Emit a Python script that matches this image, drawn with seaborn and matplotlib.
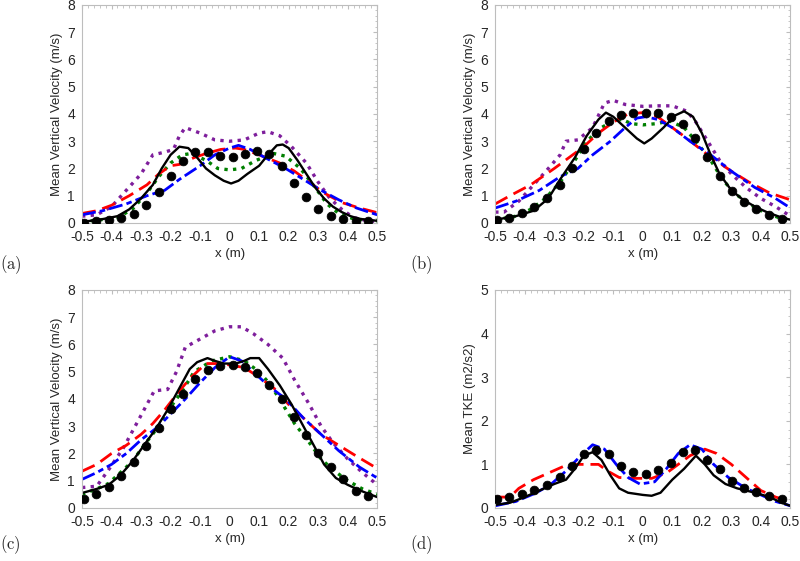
import matplotlib
matplotlib.use("Agg")
import matplotlib.pyplot as plt
import seaborn as sns
from matplotlib.ticker import AutoMinorLocator

sns.set_style("white")
plt.rcParams['font.family'] = ['Liberation Sans', 'DejaVu Sans']
plt.rcParams['mathtext.fontset'] = 'cm'

# x tick positions / labels (MATLAB style, "0" without decimals)
xtick_vals = [-0.5, -0.4, -0.3, -0.2, -0.1, 0.0, 0.1, 0.2, 0.3, 0.4, 0.5]
xtick_labels = ["-0.5", "-0.4", "-0.3", "-0.2", "-0.1", "0", "0.1", "0.2", "0.3", "0.4", "0.5"]

# measurement positions (black dots), shared by all panels
dot_x = [-0.494, -0.452, -0.41, -0.367, -0.325, -0.282, -0.24, -0.199, -0.158, -0.116, -0.074, -0.032,
         0.01, 0.051, 0.094, 0.135, 0.178, 0.218, 0.26, 0.301, 0.343, 0.385, 0.427, 0.47]

# ---- panel (a)
a_dots = [0.0, 0.07, 0.12, 0.2, 0.32, 0.66, 1.13, 1.73, 2.29, 2.61, 2.61, 2.46,
          2.41, 2.52, 2.65, 2.52, 2.1, 1.48, 0.94, 0.5, 0.26, 0.15, 0.09, 0.06]
a_black_x = [-0.5, -0.45, -0.38, -0.34, -0.3, -0.26, -0.23, -0.2, -0.17, -0.14, -0.11, -0.08, -0.05, -0.02, 0.005,
             0.03, 0.06, 0.1, 0.13, 0.16, 0.18, 0.2, 0.23, 0.26, 0.29, 0.32, 0.35, 0.38, 0.41, 0.44, 0.5]
a_black_y = [0.05, 0.1, 0.25, 0.5, 0.9, 1.4, 2.0, 2.5, 2.8, 2.75, 2.4, 2.0, 1.75, 1.55, 1.45,
             1.55, 1.8, 2.1, 2.5, 2.85, 2.88, 2.75, 2.3, 1.8, 1.3, 0.9, 0.6, 0.4, 0.25, 0.15, 0.08]
a_purple_x = [-0.5, -0.45, -0.4, -0.35, -0.3, -0.26, -0.22, -0.19, -0.17, -0.15, -0.1, -0.05, 0.0,
              0.05, 0.1, 0.13, 0.17, 0.21, 0.26, 0.3, 0.34, 0.38, 0.42, 0.46, 0.5]
a_purple_y = [0.25, 0.3, 0.6, 1.2, 1.8, 2.5, 2.6, 2.7, 3.2, 3.5, 3.3, 3.05, 3.0,
              3.05, 3.3, 3.35, 3.2, 2.8, 2.2, 1.5, 0.9, 0.5, 0.2, 0.1, 0.05]
a_red_x = [-0.5, -0.45, -0.4, -0.34, -0.28, -0.24, -0.2, -0.17, -0.12, -0.08, -0.03, 0.02, 0.05,
           0.1, 0.17, 0.22, 0.27, 0.32, 0.38, 0.44, 0.5]
a_red_y = [0.35, 0.45, 0.65, 1.0, 1.4, 1.8, 2.1, 2.15, 2.4, 2.55, 2.7, 2.75, 2.7,
           2.5, 2.2, 1.9, 1.5, 1.1, 0.75, 0.55, 0.38]
a_blue_x = [-0.5, -0.43, -0.35, -0.28, -0.22, -0.17, -0.1, -0.05, 0.0, 0.03, 0.07, 0.12, 0.19,
            0.25, 0.31, 0.37, 0.43, 0.5]
a_blue_y = [0.3, 0.45, 0.7, 1.0, 1.2, 1.6, 2.1, 2.5, 2.75, 2.85, 2.7, 2.4, 2.0,
            1.6, 1.2, 0.85, 0.55, 0.3]
a_green_x = [-0.5, -0.45, -0.38, -0.33, -0.28, -0.24, -0.2, -0.16, -0.13, -0.08, -0.04, 0.0, 0.04,
             0.09, 0.15, 0.19, 0.24, 0.29, 0.33, 0.37, 0.42, 0.5]
a_green_y = [0.05, 0.1, 0.2, 0.5, 1.1, 1.7, 2.2, 2.5, 2.55, 2.3, 2.0, 1.95, 2.0,
             2.3, 2.55, 2.45, 2.0, 1.3, 0.7, 0.35, 0.15, 0.08]

# ---- panel (b)
b_dots = [0.12, 0.2, 0.37, 0.59, 0.92, 1.38, 2.02, 2.72, 3.32, 3.75, 3.97, 4.02,
          4.04, 4.02, 3.9, 3.63, 3.11, 2.44, 1.74, 1.18, 0.78, 0.5, 0.31, 0.15]
b_black_x = [-0.5, -0.43, -0.37, -0.32, -0.28, -0.23, -0.19, -0.15, -0.125, -0.1, -0.06, -0.02, 0.005,
             0.03, 0.07, 0.11, 0.14, 0.17, 0.2, 0.23, 0.26, 0.3, 0.34, 0.38, 0.42, 0.47, 0.5]
b_black_y = [0.12, 0.25, 0.45, 0.9, 1.6, 2.4, 3.2, 3.8, 4.05, 3.9, 3.5, 3.1, 2.92,
             3.1, 3.5, 3.95, 4.1, 3.9, 3.3, 2.5, 1.8, 1.2, 0.85, 0.6, 0.4, 0.2, 0.12]
b_purple_x = [-0.5, -0.47, -0.42, -0.37, -0.32, -0.28, -0.26, -0.22, -0.17, -0.13, -0.1, -0.06, 0.0,
              0.05, 0.1, 0.15, 0.18, 0.22, 0.26, 0.3, 0.35, 0.4, 0.45, 0.5]
b_purple_y = [0.4, 0.4, 0.8, 1.4, 2.0, 2.5, 3.0, 3.05, 3.5, 4.4, 4.5, 4.35, 4.28,
              4.3, 4.3, 4.1, 3.7, 3.0, 2.3, 1.8, 1.3, 0.9, 0.6, 0.25]
b_red_x = [-0.5, -0.45, -0.38, -0.3, -0.25, -0.2, -0.15, -0.1, -0.05, 0.0, 0.05, 0.1, 0.15,
           0.22, 0.3, 0.36, 0.43, 0.5]
b_red_y = [0.7, 1.0, 1.4, 2.0, 2.4, 2.8, 3.3, 3.7, 4.0, 4.05, 3.9, 3.5, 3.1,
           2.5, 1.9, 1.5, 1.1, 0.85]
b_blue_x = [-0.5, -0.43, -0.35, -0.28, -0.22, -0.17, -0.11, -0.06, -0.02, 0.01, 0.05, 0.1, 0.16,
            0.23, 0.3, 0.38, 0.45, 0.5]
b_blue_y = [0.55, 0.8, 1.2, 1.7, 2.0, 2.5, 3.0, 3.5, 3.85, 3.9, 3.8, 3.5, 3.0,
            2.5, 1.9, 1.3, 0.9, 0.55]
b_green_x = [-0.5, -0.43, -0.38, -0.33, -0.28, -0.23, -0.19, -0.14, -0.1, -0.07, -0.04, 0.0, 0.05,
             0.09, 0.14, 0.18, 0.23, 0.27, 0.31, 0.36, 0.41, 0.46, 0.5]
b_green_y = [0.12, 0.25, 0.5, 0.9, 1.5, 2.3, 3.0, 3.5, 3.75, 3.8, 3.65, 3.6, 3.65,
             3.75, 3.5, 3.0, 2.3, 1.6, 1.1, 0.7, 0.4, 0.2, 0.12]

# ---- panel (c)
c_dots = [0.33, 0.53, 0.77, 1.19, 1.69, 2.28, 2.94, 3.65, 4.2, 4.73, 5.06, 5.21,
          5.23, 5.18, 4.95, 4.53, 4.0, 3.35, 2.66, 2.0, 1.5, 1.05, 0.64, 0.43]
c_black_x = [-0.5, -0.45, -0.41, -0.37, -0.33, -0.29, -0.25, -0.21, -0.17, -0.135, -0.11, -0.075, -0.05,
             -0.02, 0.02, 0.05, 0.07, 0.1, 0.13, 0.17, 0.21, 0.25, 0.29, 0.32, 0.36, 0.4, 0.44, 0.5]
c_black_y = [0.55, 0.7, 0.85, 1.2, 1.7, 2.3, 2.9, 3.6, 4.4, 5.1, 5.35, 5.5, 5.4,
             5.3, 5.3, 5.4, 5.5, 5.5, 5.1, 4.5, 3.8, 3.0, 2.2, 1.6, 1.1, 0.85, 0.65, 0.4]
c_purple_x = [-0.5, -0.45, -0.41, -0.36, -0.32, -0.28, -0.255, -0.21, -0.18, -0.15, -0.1, -0.05, 0.0,
              0.04, 0.08, 0.13, 0.18, 0.22, 0.27, 0.31, 0.35, 0.4, 0.45, 0.5]
c_purple_y = [0.75, 0.8, 1.4, 2.2, 3.0, 3.8, 4.3, 4.35, 5.0, 5.9, 6.2, 6.5, 6.65,
              6.65, 6.4, 6.0, 5.5, 4.7, 3.8, 3.0, 2.4, 1.8, 1.3, 0.85]
c_red_x = [-0.5, -0.45, -0.4, -0.35, -0.3, -0.26, -0.22, -0.17, -0.13, -0.08, -0.04, 0.0, 0.05,
           0.1, 0.15, 0.2, 0.26, 0.31, 0.37, 0.43, 0.5]
c_red_y = [1.35, 1.6, 2.0, 2.3, 2.7, 3.1, 3.6, 4.3, 4.8, 5.3, 5.3, 5.25, 5.15,
           4.8, 4.4, 3.8, 3.2, 2.7, 2.3, 1.9, 1.45]
c_blue_x = [-0.5, -0.45, -0.4, -0.35, -0.3, -0.24, -0.2, -0.15, -0.1, -0.05, 0.0, 0.04, 0.08,
            0.13, 0.19, 0.25, 0.31, 0.37, 0.44, 0.5]
c_blue_y = [1.05, 1.3, 1.6, 2.0, 2.5, 3.0, 3.45, 4.0, 4.6, 5.15, 5.55, 5.4, 5.0,
            4.5, 4.0, 3.3, 2.7, 2.1, 1.5, 1.1]
c_green_x = [-0.5, -0.45, -0.41, -0.37, -0.33, -0.29, -0.24, -0.2, -0.16, -0.12, -0.06, 0.0, 0.05,
             0.1, 0.14, 0.18, 0.22, 0.27, 0.31, 0.35, 0.4, 0.45, 0.5]
c_green_y = [0.5, 0.7, 0.9, 1.3, 1.7, 2.3, 3.0, 3.7, 4.3, 5.0, 5.4, 5.55, 5.4,
             5.0, 4.5, 3.8, 3.1, 2.4, 1.8, 1.4, 1.0, 0.7, 0.5]

# ---- panel (d), TKE
d_dots = [0.2, 0.25, 0.33, 0.41, 0.53, 0.71, 0.96, 1.24, 1.34, 1.23, 0.96, 0.83,
          0.77, 0.87, 1.03, 1.29, 1.34, 1.11, 0.9, 0.61, 0.45, 0.37, 0.28, 0.21]
d_black_x = [-0.5, -0.45, -0.4, -0.35, -0.3, -0.26, -0.23, -0.2, -0.17, -0.14, -0.11, -0.08, -0.05,
             0.0, 0.03, 0.06, 0.1, 0.14, 0.18, 0.21, 0.24, 0.28, 0.32, 0.38, 0.43, 0.47, 0.5]
d_black_y = [0.07, 0.12, 0.25, 0.4, 0.55, 0.65, 0.9, 1.2, 1.28, 1.1, 0.75, 0.45, 0.35,
             0.3, 0.28, 0.35, 0.65, 0.9, 1.2, 1.0, 0.75, 0.55, 0.45, 0.35, 0.25, 0.12, 0.05]
d_red_x = [-0.5, -0.45, -0.42, -0.37, -0.32, -0.27, -0.22, -0.19, -0.15, -0.12, -0.08, -0.03, 0.03,
           0.08, 0.12, 0.16, 0.21, 0.25, 0.3, 0.35, 0.4, 0.45, 0.5]
d_red_y = [0.25, 0.25, 0.45, 0.65, 0.8, 0.95, 1.0, 1.0, 1.0, 0.85, 0.7, 0.68, 0.68,
           0.8, 1.0, 1.2, 1.35, 1.25, 1.0, 0.7, 0.4, 0.25, 0.15]
d_blue_x = [-0.5, -0.43, -0.36, -0.31, -0.26, -0.21, -0.17, -0.13, -0.09, -0.05, -0.01, 0.04, 0.08,
            0.12, 0.16, 0.2, 0.24, 0.29, 0.35, 0.4, 0.45, 0.5]
d_blue_y = [0.05, 0.15, 0.35, 0.55, 0.85, 1.2, 1.45, 1.35, 1.0, 0.7, 0.55, 0.6, 0.9,
            1.25, 1.45, 1.35, 1.0, 0.7, 0.45, 0.3, 0.15, 0.05]

panels = [
    dict(pos=[0.1025, 0.6025, 0.369, 0.3886], tag="(a)", lab=(0.0, 1 - 265 / 561), ymax=8,
         ylabel="Mean Vertical Velocity (m/s)", dots=a_dots,
         lines=[(a_purple_x, a_purple_y, "purple"), (a_green_x, a_green_y, "green"),
                (a_red_x, a_red_y, "red"), (a_blue_x, a_blue_y, "blue"), (a_black_x, a_black_y, "black")]),
    dict(pos=[0.619, 0.6025, 0.369, 0.3886], tag="(b)", lab=(0.513, 1 - 265 / 561), ymax=8,
         ylabel="Mean Vertical Velocity (m/s)", dots=b_dots,
         lines=[(b_purple_x, b_purple_y, "purple"), (b_green_x, b_green_y, "green"),
                (b_red_x, b_red_y, "red"), (b_blue_x, b_blue_y, "blue"), (b_black_x, b_black_y, "black")]),
    dict(pos=[0.1025, 0.0945, 0.369, 0.3886], tag="(c)", lab=(0.0, 1 - 545 / 561), ymax=8,
         ylabel="Mean Vertical Velocity (m/s)", dots=c_dots,
         lines=[(c_purple_x, c_purple_y, "purple"), (c_green_x, c_green_y, "green"),
                (c_red_x, c_red_y, "red"), (c_blue_x, c_blue_y, "blue"), (c_black_x, c_black_y, "black")]),
    dict(pos=[0.619, 0.0945, 0.369, 0.3886], tag="(d)", lab=(0.513, 1 - 545 / 561), ymax=5,
         ylabel="Mean TKE (m2/s2)", dots=d_dots,
         lines=[(d_red_x, d_red_y, "red"), (d_blue_x, d_blue_y, "blue"), (d_black_x, d_black_y, "black")]),
]

styles = {
    "black": dict(color="black", linestyle="-", linewidth=1.7),
    "red": dict(color="#ff0000", linestyle=(0, (5, 2.5)), linewidth=2.0),
    "blue": dict(color="#0000ff", linestyle=(0, (5, 1.5, 2, 1.5)), linewidth=2.0),
    "green": dict(color="#008000", linestyle=(0, (1, 1.6)), linewidth=2.4),
    "purple": dict(color="#7e1e9c", linestyle=(0, (1, 1.6)), linewidth=2.4),
}

fig = plt.figure(figsize=(8, 5.61), dpi=100)

for p in panels:
    ax = fig.add_axes(p["pos"])
    for xs, ys, key in p["lines"]:
        sns.lineplot(x=xs, y=ys, ax=ax, sort=False, **styles[key])
    sns.scatterplot(x=dot_x, y=p["dots"], ax=ax, color="black", s=40, edgecolor="black", zorder=5)

    ax.set_xticks(xtick_vals)
    ax.set_xticklabels(xtick_labels)
    ax.set_yticks(list(range(p["ymax"] + 1)))
    ax.set_xlim(-0.5, 0.5)
    ax.set_ylim(0, p["ymax"])
    ax.xaxis.set_minor_locator(AutoMinorLocator(5))
    ax.yaxis.set_minor_locator(AutoMinorLocator(5))
    ax.tick_params(which="both", direction="in", top=True, right=True, colors="#bdbdbd",
                   labelcolor="#262626", labelsize=10)
    ax.tick_params(which="major", length=3)
    ax.tick_params(which="minor", length=1.8)
    ax.tick_params(axis="x", which="major", pad=5)
    ax.tick_params(axis="y", which="major", pad=5)
    for s in ax.spines.values():
        s.set_color("#bdbdbd")
        s.set_linewidth(0.8)
    ax.set_xlabel("x (m)", fontsize=9.5, color="#262626", labelpad=3)
    ax.set_ylabel(p["ylabel"], fontsize=9.5, color="#262626", labelpad=3)
    fig.text(p["lab"][0], p["lab"][1], r"$\mathrm{" + p["tag"] + "}$", fontsize=12, va="center", ha="left")

fig.savefig("out.png", dpi=100)
